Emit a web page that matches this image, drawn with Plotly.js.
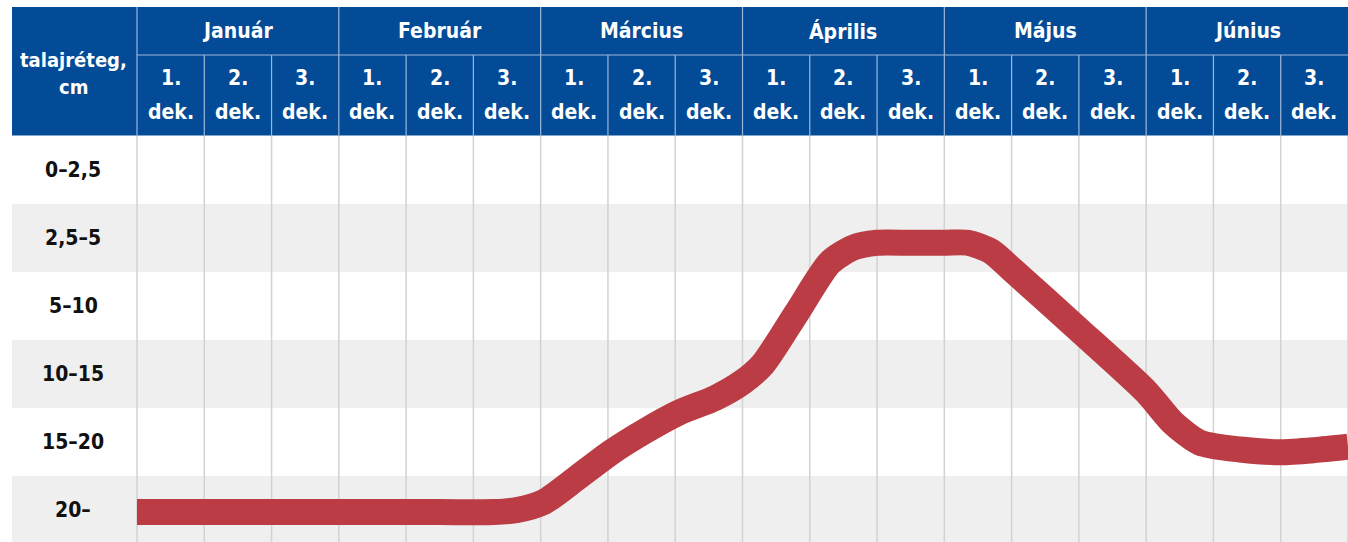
<!DOCTYPE html>
<html>
<head>
<meta charset="utf-8">
<script src="https://cdn.plot.ly/plotly-3.0.1.min.js"></script>
<style>
  html, body { margin: 0; padding: 0; background: #ffffff; }
  #chart { width: 1348px; height: 542px; }
</style>
</head>
<body>
<div id="chart"></div>
<script>
// ---- data ----
const months = ["Január", "Február", "Március", "Április", "Május", "Június"];
const dekadNumbers = ["1.", "2.", "3."];
const dekadWord = "dek.";
const layers = ["0–2,5", "2,5–5", "5–10", "10–15", "15–20", "20–"];
const cornerTitle = ["talajréteg,", "cm"];
// position along the season in dekads (0 = start of January, 18 = end of June)
const curveDekad = [0, 1.5, 3.0, 4.5, 5.3, 5.65, 6.05, 6.55, 7.05, 7.55, 8.05, 8.6, 9.0, 9.3, 9.8, 10.3, 10.65, 11.0, 11.5, 12.0, 12.35, 12.7, 13.0, 14.0, 15.0, 15.4, 15.8, 16.4, 17.0, 17.5, 18.0];
// depth position in layer rows (0 = "0–2,5" row, 5 = "20–" row)
const curveLayer = [5.03, 5.03, 5.03, 5.03, 5.03, 5.0, 4.88, 4.52, 4.15, 3.84, 3.57, 3.35, 3.12, 2.86, 2.11, 1.36, 1.14, 1.07, 1.07, 1.07, 1.07, 1.2, 1.46, 2.35, 3.26, 3.72, 4.01, 4.11, 4.15, 4.12, 4.07];

// ---- geometry helpers ----
const W = 1348, H = 542;
const colW = (W - 137) / 18;          // pixels per dekad
const rowH = 68;                       // pixels per layer row
const px2x = p => (p - 137) / colW;
const py2y = p => (p - 170) / rowH;

const blue = "#034b96";
const sepBlue = "#9db7da";
const grid = "#d2d2d2";
const band = "#efefef";
const red = "#bb3c44";
const font = "'Liberation Sans Narrow', 'Arial Narrow', 'DejaVu Sans Condensed', 'Roboto', sans-serif";

const shapes = [];
const annotations = [];

// row bands
layers.forEach((l, i) => {
  if (i % 2 === 1) {
    shapes.push({type: "rect", layer: "below", xref: "x", yref: "y",
      x0: px2x(12), x1: 18.05, y0: i - 0.5, y1: i + 0.5,
      fillcolor: band, line: {width: 0}});
  }
  annotations.push({x: px2x(73), y: i, xref: "x", yref: "y", text: "<b>" + l + "</b>",
    showarrow: false, font: {family: font, size: 21, color: "#111111"}, xanchor: "center", yanchor: "middle"});
});

// vertical grid lines in body
for (let k = 0; k <= 18; k++) {
  shapes.push({type: "line", layer: "below", xref: "x", yref: "y",
    x0: k, x1: k, y0: -0.5, y1: py2y(H + 5),
    line: {color: grid, width: 1.5}});
}

// header block
shapes.push({type: "rect", layer: "above", xref: "x", yref: "y",
  x0: px2x(12), x1: 18.05, y0: py2y(7), y1: py2y(135.5),
  fillcolor: blue, line: {width: 0}});
// horizontal separator between month and dekad rows
shapes.push({type: "line", layer: "above", xref: "x", yref: "y",
  x0: 0, x1: 18.05, y0: py2y(55), y1: py2y(55), line: {color: sepBlue, width: 1.2}});
// vertical separators in header
for (let k = 0; k < 18; k++) {
  const top = (k % 3 === 0) ? py2y(7) : py2y(55);
  shapes.push({type: "line", layer: "above", xref: "x", yref: "y",
    x0: k, x1: k, y0: top, y1: py2y(135.5), line: {color: sepBlue, width: 1.2}});
}

// header texts
cornerTitle.forEach((t, i) => {
  annotations.push({x: px2x(73), y: py2y(i === 0 ? 60 : 87), xref: "x", yref: "y",
    text: "<b>" + t + "</b>", showarrow: false,
    font: {family: font, size: 20, color: "#ffffff"}, xanchor: "center", yanchor: "middle"});
});
months.forEach((m, mi) => {
  annotations.push({x: mi * 3 + 1.5, y: py2y(31), xref: "x", yref: "y",
    text: "<b>" + m + "</b>", showarrow: false,
    font: {family: font, size: 21, color: "#ffffff"}, xanchor: "center", yanchor: "middle"});
  dekadNumbers.forEach((d, di) => {
    const xc = mi * 3 + di + 0.5;
    annotations.push({x: xc, y: py2y(78), xref: "x", yref: "y",
      text: "<b>" + d + "</b>", showarrow: false,
      font: {family: font, size: 21, color: "#ffffff"}, xanchor: "center", yanchor: "middle"});
    annotations.push({x: xc, y: py2y(112), xref: "x", yref: "y",
      text: "<b>" + dekadWord + "</b>", showarrow: false,
      font: {family: font, size: 21, color: "#ffffff"}, xanchor: "center", yanchor: "middle"});
  });
});

const trace = {
  x: curveDekad, y: curveLayer, type: "scatter", mode: "lines",
  line: {color: red, width: 26, shape: "spline", smoothing: 0.7},
  hoverinfo: "skip", cliponaxis: true
};

const layout = {
  width: W, height: H,
  margin: {l: 0, r: 0, t: 0, b: 0, pad: 0},
  paper_bgcolor: "#ffffff", plot_bgcolor: "rgba(0,0,0,0)",
  showlegend: false,
  xaxis: {range: [px2x(0), px2x(W)], visible: false, fixedrange: true},
  yaxis: {range: [py2y(H), py2y(0)], visible: false, fixedrange: true},
  shapes: shapes,
  annotations: annotations
};

Plotly.newPlot("chart", [trace], layout, {displayModeBar: false, staticPlot: true});
</script>
</body>
</html>
